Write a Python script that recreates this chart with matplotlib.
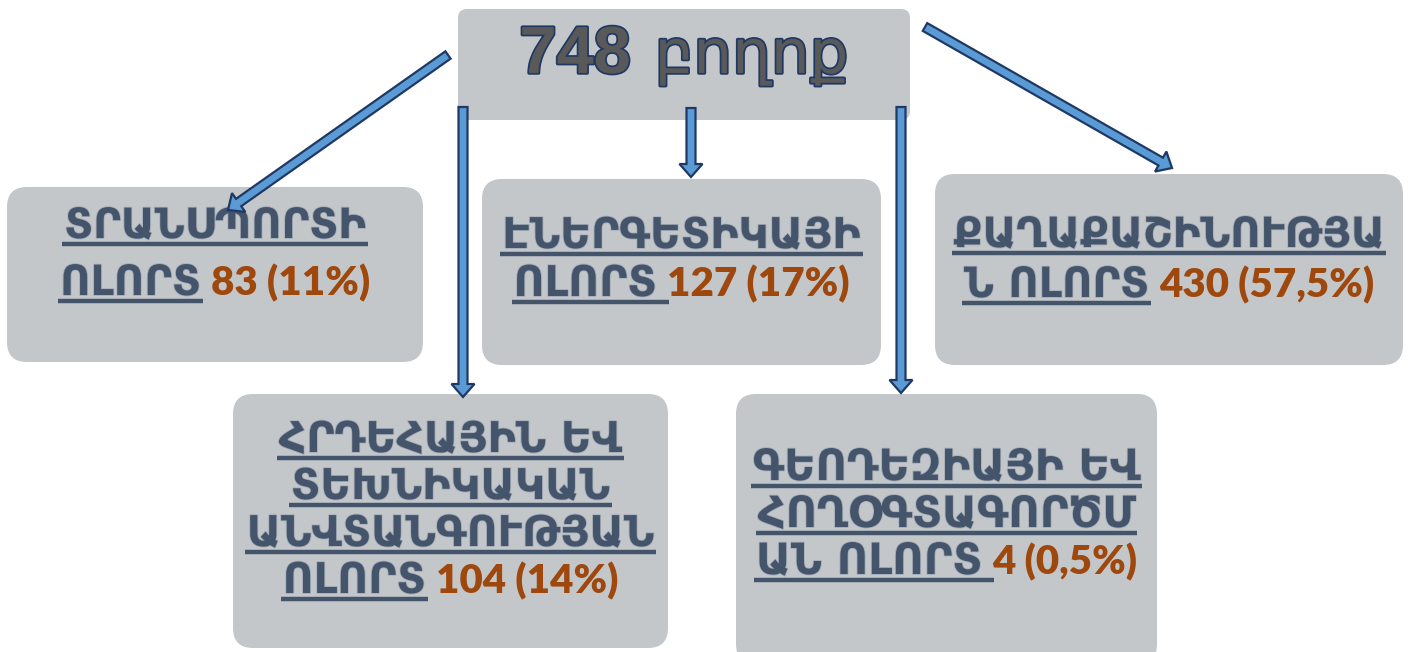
import matplotlib
matplotlib.use('Agg')
import matplotlib.pyplot as plt
from matplotlib.patches import FancyBboxPatch, FancyArrow
import matplotlib.patheffects as pe

# ---------- data ----------
total = 748
title_word = 'բողոք'
sector_lines = [
    ['ՏՐԱՆՍՊՈՐՏԻ', 'ՈԼՈՐՏ'],
    ['ԷՆԵՐԳԵՏԻԿԱՅԻ', 'ՈԼՈՐՏ '],
    ['ՔԱՂԱՔԱՇԻՆՈՒԹՅԱ', 'Ն ՈԼՈՐՏ'],
    ['ՀՐԴԵՀԱՅԻՆ ԵՎ', 'ՏԵԽՆԻԿԱԿԱՆ', 'ԱՆՎՏԱՆԳՈՒԹՅԱՆ', 'ՈԼՈՐՏ'],
    ['ԳԵՈԴԵԶԻԱՅԻ ԵՎ', 'ՀՈՂՕԳՏԱԳՈՐԾՄ', 'ԱՆ ՈԼՈՐՏ '],
]
counts = [83, 127, 430, 104, 4]
shares = ['11%', '17%', '57,5%', '14%', '0,5%']

# ---------- layout (pixels) ----------
title_box = (458, 9, 452, 111)
boxes = [(7, 187, 416, 175), (482, 179, 399, 186), (935, 174, 468, 191),
         (233, 394, 435, 254), (736, 394, 421, 270)]
first_base = [238, 248, 247, 452, 480]
line_step = [57, 48, 50, 47, 47]
arm_size = [30, 30.5, 30, 30.5, 31]
arrows = [((448, 55), (228, 210)), ((463, 107), (463, 397)), ((691, 108), (691, 177)),
          ((901, 107), (901, 393)), ((925, 27), (1172, 168))]

BOX = '#C4C7CA'
TXT = '#44546A'
NUM = '#9E480E'

fig = plt.figure(figsize=(14.09, 6.52), dpi=100)
ax = fig.add_axes([0, 0, 1, 1])
ax.set_xlim(0, 1409)
ax.set_ylim(652, 0)
ax.axis('off')
renderer = fig.canvas.get_renderer()


def wid(t):
    return t.get_window_extent(renderer).width


# title box
x0, y0, w0, h0 = title_box
ax.add_patch(FancyBboxPatch((x0, y0), w0, h0, boxstyle='round,pad=0,rounding_size=9',
                            fc=BOX, ec='none', zorder=1))
outline = [pe.withStroke(linewidth=2.5, foreground='#1F3864')]
t1 = ax.text(0, 73, str(total), fontsize=48, family='Liberation Sans', weight='bold',
             color='#595959', ha='left', va='baseline', zorder=3, path_effects=outline)
t2 = ax.text(0, 73, title_word, fontsize=44, family='DejaVu Sans',
             color='#595959', ha='left', va='baseline', zorder=3, path_effects=outline)
gap = 24
tw = wid(t1) + gap + wid(t2)
sx = x0 + w0 / 2 - tw / 2
t1.set_x(sx)
t2.set_x(sx + wid(t1) + gap)

# sector boxes
arm_fx = [pe.withStroke(linewidth=1.2, foreground='#A3ACB8')]
for i, lines in enumerate(sector_lines):
    bx, by, bw, bh = boxes[i]
    ax.add_patch(FancyBboxPatch((bx, by), bw, bh, boxstyle='round,pad=0,rounding_size=20',
                                fc=BOX, ec='none', zorder=1))
    cx = bx + bw / 2
    for j, line in enumerate(lines):
        base = first_base[i] + j * line_step[i]
        ta = ax.text(0, base, line.rstrip(), fontsize=arm_size[i], family='DejaVu Sans',
                     weight='bold', color=TXT, ha='left', va='baseline', zorder=3,
                     path_effects=arm_fx)
        wa = wid(ta)
        last = j == len(lines) - 1
        if last:
            tn = ax.text(0, base, f'{counts[i]} ({shares[i]})', fontsize=29, family='Lato',
                         weight='heavy', color=NUM, ha='left', va='baseline', zorder=3)
            wn = wid(tn)
            g = 10
            start = cx - (wa + g + wn) / 2
            tn.set_x(start + wa + g)
        else:
            start = cx - wa / 2
        ta.set_x(start)
        uw = wa + (10 if (last and line.endswith(' ')) else 0)
        ax.plot([start - 2, start + uw + 2], [base + 6, base + 6], color=TXT, lw=3.2,
                solid_capstyle='butt', zorder=3)

# arrows
for (xa, ya), (xb, yb) in arrows:
    ax.add_patch(FancyArrow(xa, ya, xb - xa, yb - ya, width=9, head_width=23, head_length=13,
                            length_includes_head=True, fc='#5B9BD5', ec='#1F3864',
                            lw=1.6, zorder=5))

fig.savefig('out.png', dpi=100)
